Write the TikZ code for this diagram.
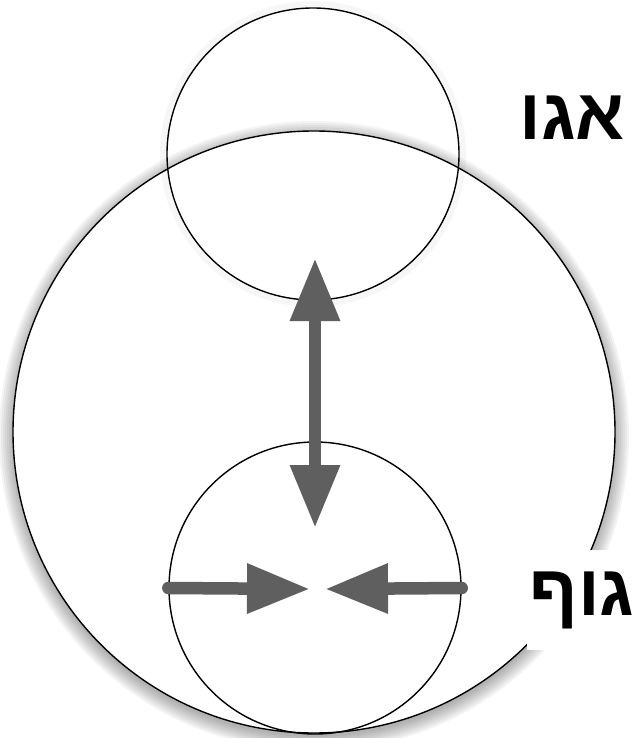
\documentclass[tikz,border=0pt]{standalone}
\usepackage{fontspec}
\newfontfamily\hebfont[Script=Hebrew]{Liberation Sans}
\TeXXeTstate=1
\usetikzlibrary{arrows.meta}
\definecolor{arrowgray}{RGB}{95,95,95}

\begin{document}
\begin{tikzpicture}[
  x=1pt, y=-1pt,
  ring/.style={circle, draw, line width=1.4pt, inner sep=0pt},
  push/.style={draw=arrowgray, line width=12.5pt,
               -{Triangle[length=63pt, width=47pt]}},
  word/.style={anchor=base, inner sep=3pt,
               font=\hebfont\bfseries\fontsize{72pt}{84pt}\selectfont}
]
\useasboundingbox (0,0) rectangle (634,738);
% soft shadow under the big circle
\foreach \r in {14,12,...,0}
  \fill[black, opacity=0.045] (314,436) circle[radius=301+\r];
\node[ring, fill=white, minimum size=602pt] (self) at (314,432) {};
% faint glow round the top circle
\foreach \r in {2,4,6}
  \draw[black, opacity=0.03, line width=2pt] (313,154) circle[radius=146+\r];
\node[ring, minimum size=292pt] (ego) at (313,154) {};
\node[ring, minimum size=292pt] (guf) at (315,588) {};
% labels
\node[word] (egoword) at (572,140) {\beginR אגו\endR};
\node[word, fill=white, minimum width=92pt, minimum height=100pt] (gufword)
  at (582,615) {\beginR גוף\endR};
% arrow ends
\coordinate (egoTip) at (315,258);
\coordinate (gufTip) at (315,528);
\coordinate (leftTip) at (310,589);
\coordinate (rightTip) at (325,589);
\draw[push, {Triangle[length=63pt, width=47pt]}-{Triangle[length=63pt, width=47pt]}]
  (egoTip) -- (gufTip);
\draw[push, line cap=round] (guf.west) -- (leftTip);
\draw[push, line cap=round] (guf.east) -- (rightTip);
\end{tikzpicture}
\end{document}
